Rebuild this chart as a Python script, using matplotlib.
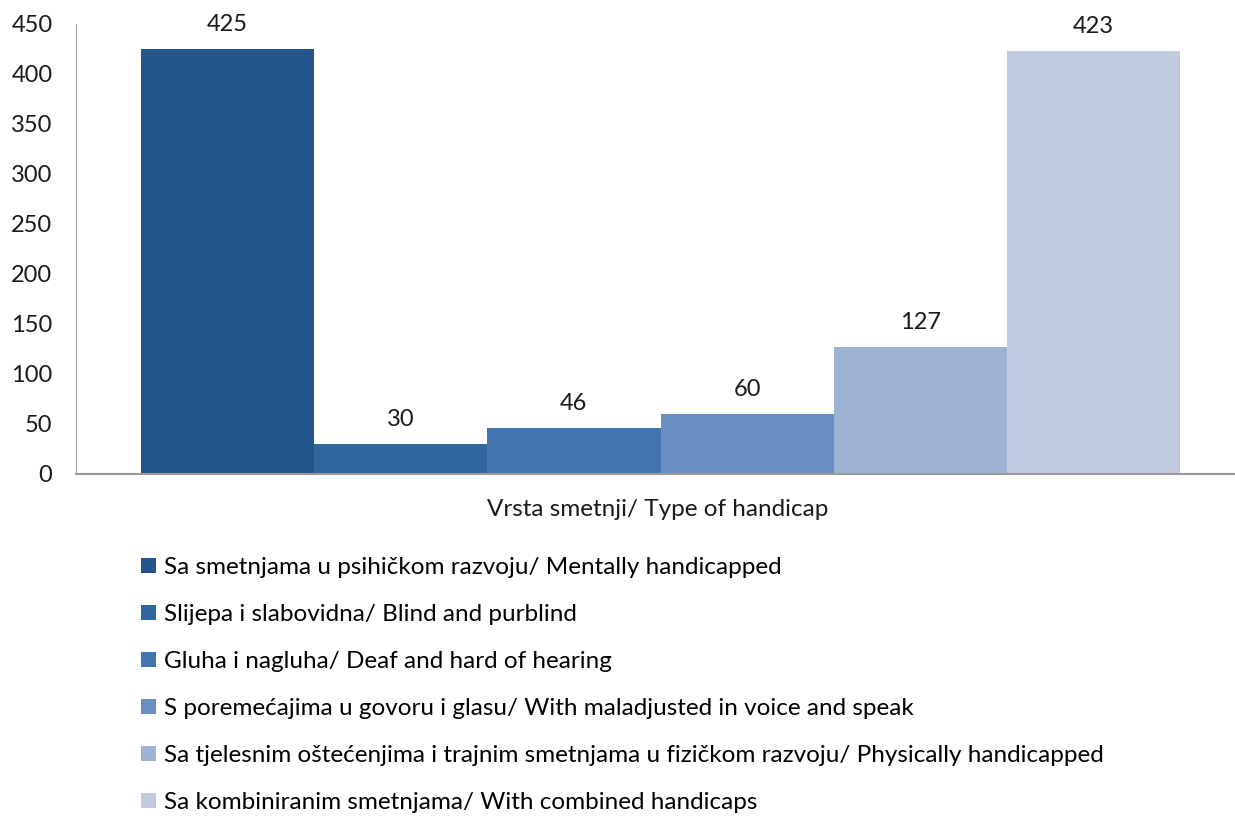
import matplotlib
matplotlib.use("Agg")
import matplotlib.pyplot as plt
from matplotlib.patches import Patch

categories = [
    "Sa smetnjama u psihičkom razvoju/ Mentally handicapped",
    "Slijepa i slabovidna/ Blind and purblind",
    "Gluha i nagluha/ Deaf and hard of hearing",
    "S poremećajima u govoru i glasu/ With maladjusted in voice and speak",
    "Sa tjelesnim oštećenjima i trajnim smetnjama u fizičkom razvoju/ Physically handicapped",
    "Sa kombiniranim smetnjama/ With combined handicaps",
]
values = [425, 30, 46, 60, 127, 423]
colors = ["#23558A", "#31679F", "#4275B0", "#6B8FC3", "#9EB2D3", "#C0CBE0"]
y_ticks = [0, 50, 100, 150, 200, 250, 300, 350, 400, 450]
x_title = "Vrsta smetnji/ Type of handicap"

plt.rcParams["font.family"] = ["Lato", "DejaVu Sans"]

fig = plt.figure(figsize=(12.35, 8.19), dpi=100)
ax = fig.add_axes([76 / 1235, (819 - 474) / 819, (1235 - 76) / 1235, 450 / 819])

positions = list(range(len(values)))
ax.bar(positions, values, width=1.0, color=colors, linewidth=0)
for pos, val in zip(positions, values):
    ax.text(pos, val + 14, str(val), ha="center", va="bottom", fontsize=17, color="#1a1a1a")

ax.set_xlim(-0.5 - 65 / 173, 5.5 + 55 / 173)
ax.set_ylim(0, 450)
ax.set_yticks(y_ticks)
ax.tick_params(axis="y", length=0, pad=17, labelsize=17, labelcolor="#1a1a1a")
ax.tick_params(axis="x", length=0, labelbottom=False)
for side in ("top", "right"):
    ax.spines[side].set_visible(False)
ax.spines["left"].set_color("#a0a0a0")
ax.spines["bottom"].set_color("#9a9a9a")
ax.spines["bottom"].set_linewidth(1.5)

ax.set_xlabel(x_title, fontsize=17.5, color="#1a1a1a")
ax.xaxis.set_label_coords((658 - 76) / (1235 - 76), -0.055)

handles = [Patch(facecolor=c, edgecolor="none") for c in colors]
fig.legend(
    handles,
    categories,
    loc="upper left",
    bbox_to_anchor=(141 / 1235, 1 - 557 / 819),
    frameon=False,
    fontsize=17.5,
    borderpad=0,
    borderaxespad=0,
    handlelength=0.62,
    handleheight=0.62,
    handletextpad=0.33,
    labelspacing=1.07,
)

fig.savefig("out.png", dpi=100)
